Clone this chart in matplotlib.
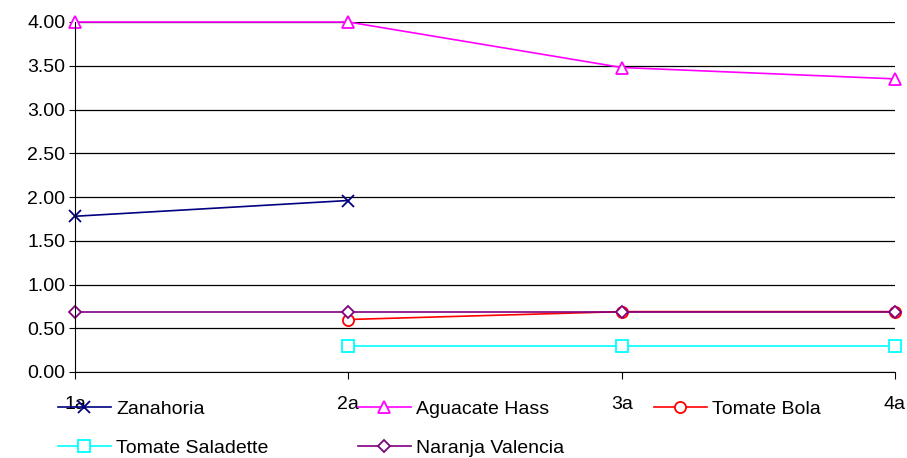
import numpy as np
import matplotlib
matplotlib.use('Agg')
from matplotlib import pyplot as plt

plt.rcParams['font.family'] = ['Liberation Sans', 'DejaVu Sans']

categories = ['1a', '2a', '3a', '4a']
zanahoria = [1.78, 1.96, np.nan, np.nan]
aguacate_hass = [4.00, 4.00, 3.48, 3.35]
tomate_bola = [np.nan, 0.60, 0.69, 0.69]
tomate_saladette = [np.nan, 0.30, 0.30, 0.30]
naranja_valencia = [0.69, 0.69, 0.69, 0.69]
y_ticks = [0.0, 0.5, 1.0, 1.5, 2.0, 2.5, 3.0, 3.5, 4.0]

fig = plt.figure(figsize=(9.07, 4.58), dpi=100)
ax = fig.add_axes([75/907, 1 - 372/458, 820/907, 350/458])
x = np.arange(len(categories))

style = dict(lw=1.2, mew=1.3, clip_on=False)
l1, = ax.plot(x, zanahoria, color='#000080', marker='x', ms=9, label='Zanahoria', **style)
l2, = ax.plot(x, aguacate_hass, color='#FF00FF', marker='^', ms=8.5, mfc='white', label='Aguacate Hass', **style)
l3, = ax.plot(x, tomate_bola, color='#FF0000', marker='o', ms=8, mfc='white', label='Tomate Bola', **style)
l4, = ax.plot(x, tomate_saladette, color='#00FFFF', marker='s', ms=8, mfc='white', label='Tomate Saladette', **style)
l5, = ax.plot(x, naranja_valencia, color='#800080', marker='D', ms=6.5, mfc='white', label='Naranja Valencia', **style)

ax.set_xlim(0, 3)
ax.set_ylim(0, 4)
ax.set_yticks(y_ticks)
ax.set_yticklabels(['%.2f' % v for v in y_ticks])
ax.set_xticks(x)
ax.set_xticklabels(categories)
ax.yaxis.grid(True, color='black', lw=0.9)
ax.set_axisbelow(True)
for s in ['top', 'right']:
    ax.spines[s].set_visible(False)
ax.spines['left'].set_color('black')
ax.spines['bottom'].set_color('black')
ax.tick_params(axis='y', direction='out', length=4, labelsize=14, pad=3)
ax.tick_params(axis='x', direction='out', length=5, labelsize=14, pad=12)

handles = [l1, l4, l2, l5, l3]
fig.legend(handles, [h.get_label() for h in handles], ncol=3, loc='upper left',
           bbox_to_anchor=(58/907, 1 - 400/458), frameon=False, fontsize=14,
           handlelength=2.7, handletextpad=0.3, columnspacing=4.6, labelspacing=1.1,
           borderaxespad=0, borderpad=0)

fig.savefig('out.png', dpi=100)
